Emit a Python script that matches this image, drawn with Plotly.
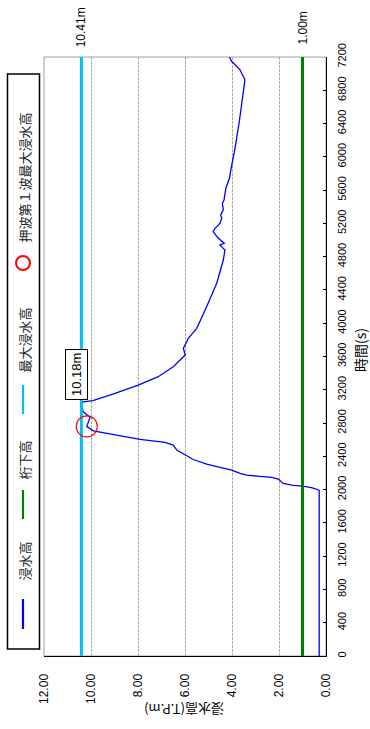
import plotly.graph_objects as go

# ---------------- data ----------------
time_s = [0, 1990, 2010, 2025, 2041, 2050, 2074, 2100, 2126, 2146, 2160, 2174, 2194,
          2234, 2266, 2306, 2362, 2435, 2475, 2535, 2567, 2603, 2667, 2707, 2760,
          2870, 2935, 3016, 3056, 3070, 3157, 3257, 3357, 3477, 3617, 3698, 3818,
          3939, 4199, 4480, 4760, 4880, 4900, 4941, 4961, 5021, 5101, 5141, 5202,
          5262, 5302, 5362, 5442, 5482, 5623, 5743, 5903, 6104, 6424, 6706, 6926,
          6966, 7046, 7106, 7146, 7200]
level_m = [0.29, 0.29, 0.45, 0.62, 0.99, 1.39, 1.82, 1.95, 2.03, 2.30, 2.81, 3.37, 3.66,
           4.01, 4.51, 5.08, 5.65, 6.14, 6.35, 6.50, 6.85, 7.91, 9.05, 9.90, 10.18,
           10.04, 10.33, 10.41, 10.33, 9.92, 8.98, 7.99, 7.14, 6.50, 5.99, 6.07, 5.86,
           5.50, 5.08, 4.65, 4.37, 4.30, 4.37, 4.51, 4.33, 4.58, 4.80, 4.72, 4.51,
           4.44, 4.48, 4.37, 4.41, 4.34, 4.26, 4.11, 4.01, 3.87, 3.69, 3.54, 3.45,
           3.52, 3.66, 3.87, 4.01, 4.11]

max_level = 10.41
girder_level = 1.00
first_wave_time = 2760
first_wave_level = 10.18

level_ticks = [0, 2, 4, 6, 8, 10, 12]
time_ticks = list(range(0, 7201, 400))

legend_names = ["浸水高", "桁下高", "最大浸水高", "押波第１波最大浸水高"]
x_title = "浸水高(T.P.m)"
y_title = "時間(s)"

# ---------------- layout helpers ----------------
W, H = 370, 729
L, R, T, B = 44, 44, 57, 73
PW, PH = W - L - R, H - T - B


def px(x):
    return (x - L) / PW


def py(y):
    return (H - B - y) / PH


BLUE = "#0000FF"
CYAN = "#00C0F0"
GREEN = "#008000"
RED = "#FF0000"
FONT = "Liberation Sans, Arial, Noto Sans CJK JP"
CJK = "Noto Sans CJK JP, Liberation Sans"

fig = go.Figure()
fig.add_trace(go.Scatter(x=level_m, y=time_s, mode="lines",
                         line=dict(color=BLUE, width=1.3), name=legend_names[0]))
fig.add_trace(go.Scatter(x=[girder_level, girder_level], y=[0, 7200], mode="lines",
                         line=dict(color=GREEN, width=3), name=legend_names[1]))
fig.add_trace(go.Scatter(x=[max_level, max_level], y=[0, 7200], mode="lines",
                         line=dict(color=CYAN, width=3), name=legend_names[2]))
fig.add_trace(go.Scatter(x=[first_wave_level], y=[first_wave_time], mode="markers",
                         marker=dict(symbol="circle-open", size=21, color=RED,
                                     line=dict(width=1.1, color=RED)),
                         name=legend_names[3]))

shapes = []
# plot-area border (gray)
shapes.append(dict(type="rect", xref="paper", yref="paper", x0=0, x1=1, y0=0, y1=1,
                   line=dict(color="#A0A0A0", width=1), layer="below"))
# legend box
shapes.append(dict(type="rect", xref="paper", yref="paper",
                   x0=px(7.5), x1=px(39.5), y0=py(649), y1=py(74),
                   line=dict(color="black", width=1.5)))
# legend symbols
lx = px(23)
shapes.append(dict(type="line", xref="paper", yref="paper", x0=lx, x1=lx,
                   y0=py(629), y1=py(599), line=dict(color=BLUE, width=2.2)))
shapes.append(dict(type="line", xref="paper", yref="paper", x0=lx, x1=lx,
                   y0=py(519), y1=py(490), line=dict(color=GREEN, width=2.2)))
shapes.append(dict(type="line", xref="paper", yref="paper", x0=lx, x1=lx,
                   y0=py(414), y1=py(385), line=dict(color=CYAN, width=2.2)))
shapes.append(dict(type="circle", xref="paper", yref="paper",
                   x0=px(16), x1=px(30), y0=py(270), y1=py(256),
                   line=dict(color=RED, width=2)))

annotations = []
legend_centers = [561, 460, 340, 178]
for name, cy in zip(legend_names, legend_centers):
    annotations.append(dict(text=name, xref="paper", yref="paper", x=px(23.5), y=py(cy),
                            showarrow=False, textangle=-90, xanchor="center",
                            yanchor="middle", font=dict(family=CJK, size=13, color="#222")))

annotations.append(dict(text=f"{max_level:.2f}m", xref="x", yref="paper", x=max_level,
                        y=py(27), showarrow=False, textangle=-90, xanchor="center",
                        yanchor="middle", font=dict(family=FONT, size=12, color="black")))
annotations.append(dict(text=f"{girder_level:.2f}m", xref="x", yref="paper", x=girder_level,
                        y=py(28), showarrow=False, textangle=-90, xanchor="center",
                        yanchor="middle", font=dict(family=FONT, size=12, color="black")))
annotations.append(dict(text=f"{first_wave_level:.2f}m", xref="paper", yref="paper",
                        x=px(76), y=py(375), showarrow=False, textangle=-90,
                        xanchor="center", yanchor="middle", bgcolor="white",
                        bordercolor="black", borderwidth=1, borderpad=3,
                        font=dict(family=FONT, size=13, color="black")))
annotations.append(dict(text=y_title, xref="paper", yref="paper", x=px(360), y=py(350),
                        showarrow=False, textangle=-90, xanchor="center", yanchor="middle",
                        font=dict(family=CJK, size=14, color="black")))
annotations.append(dict(text=x_title, xref="paper", yref="paper", x=px(184), y=py(710),
                        showarrow=False, textangle=180, xanchor="center", yanchor="middle",
                        font=dict(family=CJK, size=13, color="black")))

fig.update_layout(
    width=W, height=H,
    margin=dict(l=L, r=R, t=T, b=B, pad=0),
    paper_bgcolor="white", plot_bgcolor="white",
    showlegend=False,
    shapes=shapes, annotations=annotations,
    font=dict(family=FONT, color="black"),
    xaxis=dict(range=[12, 0], tickvals=level_ticks, tickformat=".2f",
               tickangle=-90, tickfont=dict(size=12, color="black"),
               showgrid=True, gridcolor="#AAAAAA", gridwidth=1, griddash="3px,1px",
               showline=True, linecolor="black", linewidth=1.3,
               ticks="", ticklabelstandoff=12, zeroline=False, fixedrange=True),
    yaxis=dict(range=[0, 7200], tickvals=time_ticks, side="right",
               tickangle=-90, tickfont=dict(size=11, color="black"),
               showgrid=False, showline=True, linecolor="black", linewidth=1.3,
               ticks="inside", ticklen=3, tickcolor="black", tickwidth=1,
               ticklabelstandoff=6, zeroline=False, fixedrange=True),
)

fig.write_html("out.html", config={"displayModeBar": False},
               post_script="document.body.style.margin='0';document.body.style.overflow='hidden';")
